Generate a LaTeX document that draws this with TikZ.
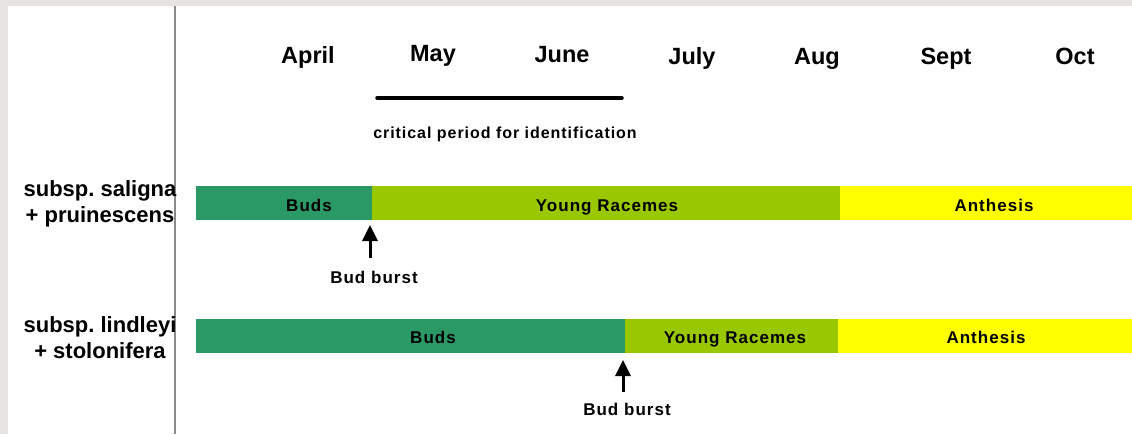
\documentclass[tikz,border=0pt]{standalone}
\usepackage{fontspec}
\setmainfont{Liberation Sans}
\newfontfamily\spacedfont[LetterSpace=6]{Liberation Sans}
\usetikzlibrary{arrows.meta}
\definecolor{frame}{HTML}{E8E3E3}
\definecolor{budgreen}{HTML}{2A9966}
\definecolor{lime}{HTML}{99C800}
\definecolor{yel}{HTML}{FFFF00}
\definecolor{axisgray}{HTML}{8A8A8A}
\frenchspacing
\tikzset{
  month/.style={font=\fontsize{23.5}{24}\selectfont\bfseries, inner sep=0pt, anchor=base},
  rowlabel/.style={font=\fontsize{22}{26}\selectfont\bfseries\frenchspacing, align=center, inner sep=0pt, anchor=base},
  bar/.style={fill=#1, draw=none, minimum height=34pt, inner sep=0pt, anchor=west},
  bartext/.style={font=\fontsize{17}{18}\selectfont\spacedfont\bfseries, inner sep=0pt, anchor=base},
  note/.style={font=\fontsize{16}{18}\selectfont\spacedfont\bfseries, inner sep=0pt, anchor=base},
  burst/.style={-{Triangle[width=15pt,length=16pt]}, line width=3pt},
}
\begin{document}
\begin{tikzpicture}[x=1pt,y=-1pt]
\useasboundingbox (0,0) rectangle (1132,434);
\fill[frame] (0,0) rectangle (1132,434);
\fill[white] (8,6) rectangle (1132,434);
\draw[axisgray, line width=1.5pt] (175,6) -- (175,434);
% months
\node[month] (apr) at (308,63) {April};
\node[month] (may) at (433,61) {May};
\node[month] (jun) at (562,62) {June};
\node[month] (jul) at (692,64) {July};
\node[month] (aug) at (817,64) {Aug};
\node[month] (sep) at (946,64) {Sept};
\node[month] (oct) at (1075,64) {Oct};
% critical period
\coordinate (cpA) at (377,98);
\coordinate (cpB) at (622,98);
\draw[line width=3.5pt, line cap=round] (cpA) -- (cpB);
\node[note] (cp) at (505,138) {critical period for identification};
% row labels (base = baseline of last line)
\node[rowlabel] (r1) at (100,222) {subsp. saligna\\+ pruinescens};
\node[rowlabel] (r2) at (100,358) {subsp. lindleyi\\+ stolonifera};
% bar 1
\node[bar=budgreen, minimum width=176pt] (b1buds) at (196,203) {};
\node[bar=lime, minimum width=468pt] (b1yr) at (372,203) {};
\node[bar=yel, minimum width=292pt] (b1an) at (840,203) {};
\node[bartext] (t1) at (309,211) {Buds};
\node[bartext] (t2) at (607,211) {Young Racemes};
\node[bartext] (t3) at (994,211) {Anthesis};
% bar 2
\node[bar=budgreen, minimum width=429pt] (b2buds) at (196,336) {};
\node[bar=lime, minimum width=213pt] (b2yr) at (625,336) {};
\node[bar=yel, minimum width=294pt] (b2an) at (838,336) {};
\node[bartext] (t4) at (433,343) {Buds};
\node[bartext] (t5) at (735,343) {Young Racemes};
\node[bartext] (t6) at (986,343) {Anthesis};
% bud burst
\node[bartext] (bb1) at (374,283) {Bud burst};
\node[bartext] (bb2) at (627,415) {Bud burst};
\coordinate (a1s) at (370,258);
\coordinate (a1e) at (370,225);
\coordinate (a2s) at (623,392);
\coordinate (a2e) at (623,360);
\draw[burst] (a1s) -- (a1e);
\draw[burst] (a2s) -- (a2e);
\end{tikzpicture}
\end{document}
